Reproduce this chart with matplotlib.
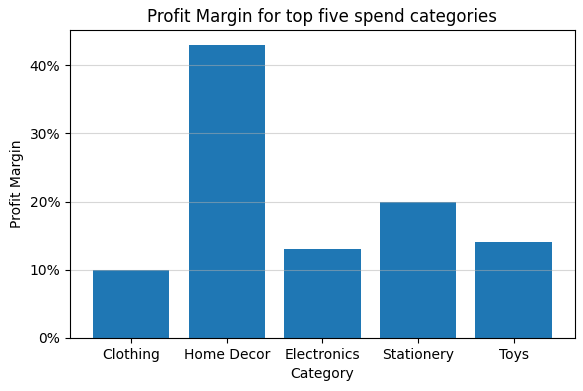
import matplotlib
matplotlib.use("Agg")
import matplotlib.pyplot as plt
from matplotlib.ticker import PercentFormatter

categories = ["Clothing", "Home Decor", "Electronics", "Stationery", "Toys"]
profit_margin = [0.10, 0.43, 0.13, 0.20, 0.14]

fig, ax = plt.subplots(figsize=(5.83, 3.91), dpi=100)
fig.subplots_adjust(left=0.12, right=0.986, top=0.923, bottom=0.136)

ax.bar(categories, profit_margin, color="#1f77b4")
ax.yaxis.set_major_formatter(PercentFormatter(1.0, decimals=0))
ax.grid(axis="y", alpha=0.5)

ax.set_title("Profit Margin for top five spend categories")
ax.set_xlabel("Category")
ax.set_ylabel("Profit Margin")

fig.savefig("out.png", dpi=100)
